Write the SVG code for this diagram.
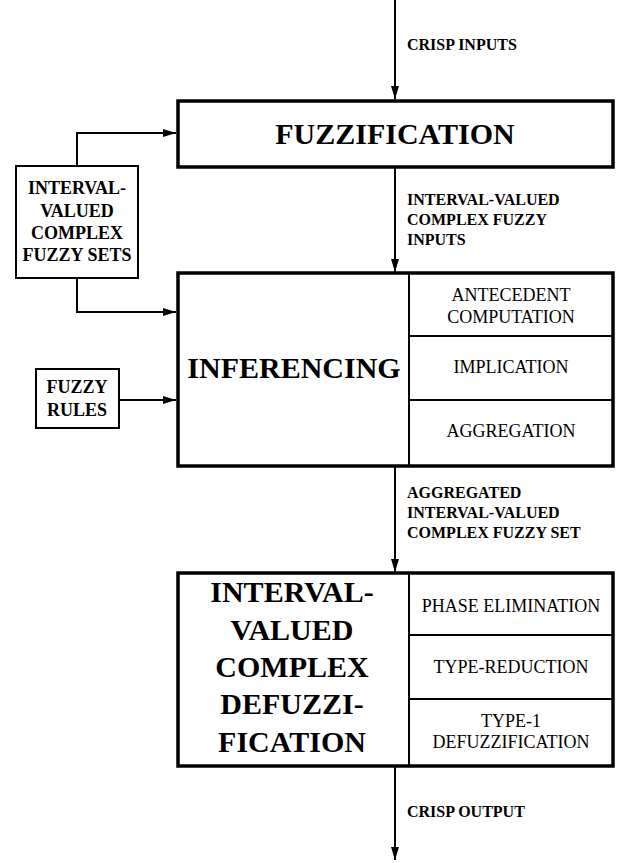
<svg xmlns="http://www.w3.org/2000/svg" width="626" height="863" viewBox="0 0 626 863">
<style>
.big{fill:#fff;stroke:#000;stroke-width:3.5}
.sub{fill:none;stroke:#000;stroke-width:2}
.small{fill:#fff;stroke:#000;stroke-width:2}
.conn{fill:none;stroke:#000;stroke-width:2}
.t{font-family:"Liberation Serif","Times New Roman",serif;fill:#000}
.h{font-size:30px;font-weight:bold;text-anchor:middle}
.lb{font-size:16px;font-weight:bold}
.sb{font-size:18px;font-weight:bold;text-anchor:middle}
.r{font-size:18px;text-anchor:middle}
</style>
<defs>
<marker id="ah" viewBox="0 0 13 8" refX="13" refY="4" markerWidth="13" markerHeight="8" markerUnits="userSpaceOnUse" orient="auto">
<path d="M0,0 L13,4 L0,8 Z" fill="#000"/>
</marker>
</defs>
<rect width="626" height="863" fill="#fff"/>
<g id="connectors">
<line class="conn" x1="395" y1="0" x2="395" y2="99" marker-end="url(#ah)"/>
<line class="conn" x1="395" y1="167" x2="395" y2="272" marker-end="url(#ah)"/>
<line class="conn" x1="395" y1="466" x2="395" y2="572" marker-end="url(#ah)"/>
<line class="conn" x1="395" y1="766" x2="395" y2="860" marker-end="url(#ah)"/>
<polyline class="conn" points="77,166 77,133 176,133" marker-end="url(#ah)"/>
<polyline class="conn" points="77,278 77,312 176,312" marker-end="url(#ah)"/>
<line class="conn" x1="119" y1="400" x2="176" y2="400" marker-end="url(#ah)"/>
<text class="t lb" x="407" y="50">CRISP INPUTS</text>
<text class="t lb" x="407" y="205">INTERVAL-VALUED</text>
<text class="t lb" x="407" y="225">COMPLEX FUZZY</text>
<text class="t lb" x="407" y="245">INPUTS</text>
<text class="t lb" x="407" y="498">AGGREGATED</text>
<text class="t lb" x="407" y="518">INTERVAL-VALUED</text>
<text class="t lb" x="407" y="538">COMPLEX FUZZY SET</text>
<text class="t lb" x="407" y="817">CRISP OUTPUT</text>
</g>
<g id="fuzzification">
<rect class="big" x="178" y="101" width="435" height="66"/>
<text class="t h" x="395" y="144">FUZZIFICATION</text>
</g>
<g id="ivcfs">
<rect class="small" x="16" y="166" width="122" height="112"/>
<text class="t sb" x="77" y="194">INTERVAL-</text>
<text class="t sb" x="77" y="217">VALUED</text>
<text class="t sb" x="77" y="239">COMPLEX</text>
<text class="t sb" x="77" y="261">FUZZY SETS</text>
</g>
<g id="fuzzy-rules">
<rect class="small" x="36" y="369" width="83" height="59"/>
<text class="t sb" x="77" y="393">FUZZY</text>
<text class="t sb" x="77" y="416">RULES</text>
</g>
<g id="inferencing">
<rect class="big" x="178" y="273" width="435" height="193"/>
<line class="sub" x1="409" y1="273" x2="409" y2="466"/>
<line class="sub" x1="409" y1="336" x2="613" y2="336"/>
<line class="sub" x1="409" y1="400" x2="613" y2="400"/>
<text class="t h" x="294" y="378">INFERENCING</text>
<text class="t r" x="511" y="301">ANTECEDENT</text>
<text class="t r" x="511" y="323">COMPUTATION</text>
<text class="t r" x="511" y="373">IMPLICATION</text>
<text class="t r" x="511" y="437">AGGREGATION</text>
</g>
<g id="defuzzification">
<rect class="big" x="178" y="573" width="435" height="193"/>
<line class="sub" x1="409" y1="573" x2="409" y2="766"/>
<line class="sub" x1="409" y1="635" x2="613" y2="635"/>
<line class="sub" x1="409" y1="699" x2="613" y2="699"/>
<text class="t h" x="292" y="602">INTERVAL-</text>
<text class="t h" x="292" y="640">VALUED</text>
<text class="t h" x="292" y="677">COMPLEX</text>
<text class="t h" x="292" y="714">DEFUZZI-</text>
<text class="t h" x="292" y="752">FICATION</text>
<text class="t r" x="511" y="612">PHASE ELIMINATION</text>
<text class="t r" x="511" y="673">TYPE-REDUCTION</text>
<text class="t r" x="511" y="727">TYPE-1</text>
<text class="t r" x="511" y="748">DEFUZZIFICATION</text>
</g>
</svg>
